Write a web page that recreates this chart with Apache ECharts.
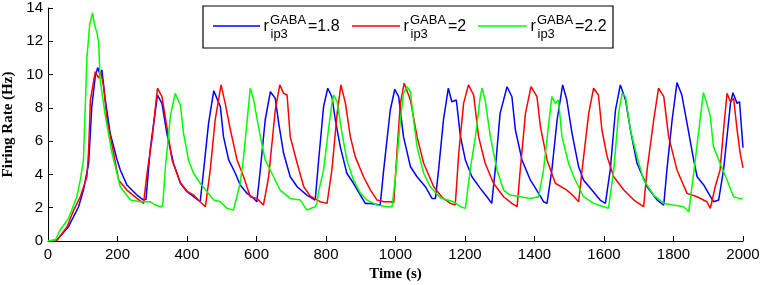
<!DOCTYPE html>
<html>
<head>
<meta charset="utf-8">
<script src="https://cdn.jsdelivr.net/npm/echarts@6/dist/echarts.min.js"></script>
<style>
html,body{margin:0;padding:0;background:#fff;}
#chart{width:765px;height:285px;}
</style>
</head>
<body>
<div id="chart"></div>
<script>
// ---- data ----
var xTicks = [0, 200, 400, 600, 800, 1000, 1200, 1400, 1600, 1800, 2000];
var yTicks = [0, 2, 4, 6, 8, 10, 12, 14];
var legendValues = ['1.8', '2', '2.2'];

var blueT = [0,25,30,59,88,102,117,126,136,143,150,155,165,179,199,208,227,256,275,282,294,315,328,342,361,381,400,419,438,448,462,477,486,496,505,520,539,553,573,592,601,611,625,640,654,664,678,697,717,745,769,779,793,805,817,827,841,860,879,899,913,928,956,966,985,998,1009,1023,1043,1062,1086,1105,1115,1124,1138,1152,1162,1175,1187,1201,1220,1244,1263,1277,1287,1301,1321,1335,1345,1364,1388,1412,1426,1436,1450,1465,1481,1493,1508,1527,1541,1565,1589,1604,1618,1633,1647,1662,1676,1695,1724,1753,1772,1781,1796,1810,1824,1839,1858,1868,1887,1901,1915,1930,1944,1954,1964,1971,1983,1990,2000];
var blueV = [0,0.05,0.1,0.86,2.06,3.06,4.67,8.07,9.88,10.42,9.98,10.28,8.47,6.47,4.87,4.27,3.37,2.76,2.46,2.5,5.47,8.77,8.27,6.47,4.67,3.47,2.96,2.66,2.36,4.27,7.07,9.03,8.57,8.07,6.27,4.87,4.07,3.37,2.86,2.56,2.36,4.27,7.27,8.97,8.57,7.07,5.27,3.86,3.26,2.76,2.46,4.9,8.07,9.18,8.67,7.27,5.67,4.07,3.47,2.76,2.26,2.26,2.16,4.27,7.87,9.12,8.67,6.27,4.46,3.86,3.26,2.56,2.56,4.27,7.27,9.18,8.37,8.47,6.27,4.87,3.86,3.16,2.66,2.26,4.27,7.67,9.27,8.67,6.67,4.87,3.67,2.86,2.36,2.26,4.27,7.27,9.38,8.47,6.47,4.46,3.67,3.06,2.46,2.26,4.27,7.87,9.38,8.47,6.67,4.67,3.26,2.46,2.16,4.27,7.27,9.52,8.77,7.07,4.87,3.86,3.37,2.86,2.36,2.46,4.27,6.27,8.27,8.91,8.27,8.37,5.6];

var redT = [0,26,55,74,93,112,117,122,136,146,152,160,170,189,203,227,256,275,285,299,315,328,342,357,381,400,419,433,453,467,481,498,510,525,544,563,582,601,620,635,654,667,678,688,697,717,736,755,783,803,817,832,843,856,870,884,908,928,947,966,985,995,1004,1014,1025,1043,1062,1081,1110,1135,1158,1172,1182,1196,1210,1225,1239,1258,1282,1311,1335,1350,1359,1374,1390,1407,1417,1436,1460,1493,1512,1527,1537,1556,1570,1584,1594,1609,1628,1657,1686,1714,1724,1743,1757,1772,1786,1810,1839,1868,1896,1906,1920,1934,1944,1954,1964,1973,1983,1992,2000];
var redV = [0,0.05,0.86,1.86,2.66,3.86,5.47,8.47,10.17,9.78,10.17,9.27,7.27,5.27,3.67,3.06,2.56,2.26,4.07,6.07,9.18,8.67,6.87,4.87,3.5,3.0,2.76,2.46,2.06,4.27,7.27,9.38,8.27,6.67,4.87,3.86,2.66,2.56,2.16,3.86,7.87,9.38,8.87,8.77,6.27,4.67,3.26,2.7,2.36,2.26,4.27,7.67,9.38,8.27,6.27,5.07,3.86,3.06,2.46,2.36,2.36,2.3,5.27,8.27,9.48,8.47,6.27,4.67,3.26,2.6,2.26,2.16,5.27,8.27,9.38,8.77,6.27,4.67,3.47,2.66,2.26,2.06,4.27,7.67,9.27,8.67,6.87,4.87,3.47,3.06,2.7,2.36,4.27,7.67,9.18,8.77,6.67,5.07,3.86,3.06,2.46,2.06,4.27,7.27,9.18,8.67,6.27,4.27,2.86,2.66,2.36,1.96,3.26,4.27,6.67,8.87,8.37,8.57,6.67,5.27,4.4];

var greenT = [0,21,35,59,83,93,102,112,120,128,135,141,146,150,165,184,208,237,266,294,309,323,330,338,352,366,381,390,405,419,438,477,496,515,534,539,553,563,582,592,597,611,625,649,668,697,726,745,769,774,779,793,807,817,822,832,846,860,879,899,918,947,975,990,999,1014,1023,1033,1043,1052,1062,1081,1100,1129,1167,1187,1201,1215,1230,1244,1249,1258,1273,1292,1311,1330,1359,1388,1412,1426,1441,1450,1460,1469,1479,1498,1512,1522,1541,1570,1599,1613,1628,1642,1652,1662,1676,1695,1714,1743,1772,1800,1829,1844,1858,1873,1886,1896,1906,1915,1934,1954,1973,1988,2000];
var greenV = [0,0.06,0.66,1.36,2.66,3.67,4.87,11.0,13.0,13.7,12.9,12.5,11.9,9.7,7.5,5.3,3.26,2.46,2.36,2.36,2.16,2.06,2.1,4.46,7.47,8.87,8.17,6.47,4.8,4.07,3.47,2.46,2.36,1.96,1.86,1.76,3.47,5.07,9.18,8.47,7.87,6.27,4.87,3.86,3.06,2.56,2.46,1.86,2.06,2.3,3.0,4.27,6.67,8.27,8.77,8.37,6.47,4.87,3.67,2.87,2.46,2.16,2.06,2.06,3.67,7.27,8.87,9.27,8.97,7.27,5.67,4.07,3.26,2.6,2.36,2.06,1.96,4.27,6.27,8.67,9.18,8.47,6.27,4.27,3.06,2.76,2.66,2.56,2.66,4.27,7.07,8.67,8.27,8.47,6.27,4.67,3.9,3.47,2.66,2.26,2.06,1.96,4.27,7.67,8.87,8.67,6.67,5.07,3.67,2.76,2.26,2.16,2.06,1.76,4.07,6.67,8.91,8.27,7.47,5.67,4.67,3.67,2.66,2.56,2.56];

function pairs(t, v){ return t.map(function(x,i){ return [x, v[i]]; }); }

var colors = ['#0000ff', '#ff0000', '#00ff00'];
var seriesData = [pairs(blueT, blueV), pairs(redT, redV), pairs(greenT, greenV)];

// ---- legend (drawn as graphic, real text) ----
var legendLineX = [[213, 260], [352, 400], [478, 527]];
var graphics = [{
  type: 'rect', shape: {x: 203, y: 6, width: 410, height: 42},
  style: {fill: '#fff', stroke: '#000', lineWidth: 1.2}, z: 100
}];
legendLineX.forEach(function(lx, i){
  graphics.push({type: 'line', shape: {x1: lx[0], y1: 26, x2: lx[1], y2: 26},
    style: {stroke: colors[i], lineWidth: 1.5}, z: 101});
  var rx = lx[1] + 3.5;
  graphics.push({type: 'text', x: rx, y: 26.5, z: 101,
    style: {text: 'r', font: '16px Arial, "Liberation Sans"', fill: '#000', textAlign: 'left', textVerticalAlign: 'middle'}});
  graphics.push({type: 'text', x: rx + 6.5, y: 20, z: 101,
    style: {text: 'GABA', font: '13px Arial, "Liberation Sans"', fill: '#000', textAlign: 'left', textVerticalAlign: 'middle'}});
  graphics.push({type: 'text', x: rx + 7, y: 34, z: 101,
    style: {text: 'ip3', font: '13px Arial, "Liberation Sans"', fill: '#000', textAlign: 'left', textVerticalAlign: 'middle'}});
  graphics.push({type: 'text', x: rx + 44.5, y: 26.5, z: 101,
    style: {text: '=' + legendValues[i], font: '16px Arial, "Liberation Sans"', fill: '#000', textAlign: 'left', textVerticalAlign: 'middle'}});
});

var chart = echarts.init(document.getElementById('chart'), null, {renderer: 'canvas'});
var axisFont = {color: '#000', fontSize: 15, fontFamily: 'Arial, "Liberation Sans"'};
var nameFont = {color: '#000', fontSize: 15, fontWeight: 'bold', fontFamily: '"Times New Roman", "Liberation Serif", serif'};
chart.setOption({
  animation: false,
  backgroundColor: '#fff',
  grid: {left: 48, right: 22, top: 8, bottom: 44, containLabel: false, outerBoundsMode: 'none'},
  xAxis: {
    type: 'value', min: xTicks[0], max: xTicks[xTicks.length - 1], interval: xTicks[1] - xTicks[0],
    name: 'Time (s)', nameLocation: 'middle', nameGap: 25, nameTextStyle: nameFont,
    axisLine: {show: true, onZero: false, lineStyle: {color: '#000', width: 1}},
    axisTick: {show: true, inside: true, length: 5, lineStyle: {color: '#000'}},
    axisLabel: Object.assign({margin: 6, formatter: function(v){ return String(v); }}, axisFont),
    splitLine: {show: false}
  },
  yAxis: {
    type: 'value', min: yTicks[0], max: yTicks[yTicks.length - 1], interval: yTicks[1] - yTicks[0],
    name: 'Firing Rate (Hz)', nameLocation: 'middle', nameGap: 25, nameTextStyle: nameFont,
    axisLine: {show: true, lineStyle: {color: '#000', width: 1}},
    axisTick: {show: true, inside: true, length: 5, lineStyle: {color: '#000'}},
    axisLabel: Object.assign({margin: 5, formatter: function(v){ return String(v); }}, axisFont),
    splitLine: {show: false}
  },
  series: seriesData.map(function(d, i){
    return {type: 'line', data: d, showSymbol: false, symbol: 'none',
      lineStyle: {color: colors[i], width: 1.5}, itemStyle: {color: colors[i]}, z: 2 + i};
  }),
  graphic: graphics
});
</script>
</body>
</html>
